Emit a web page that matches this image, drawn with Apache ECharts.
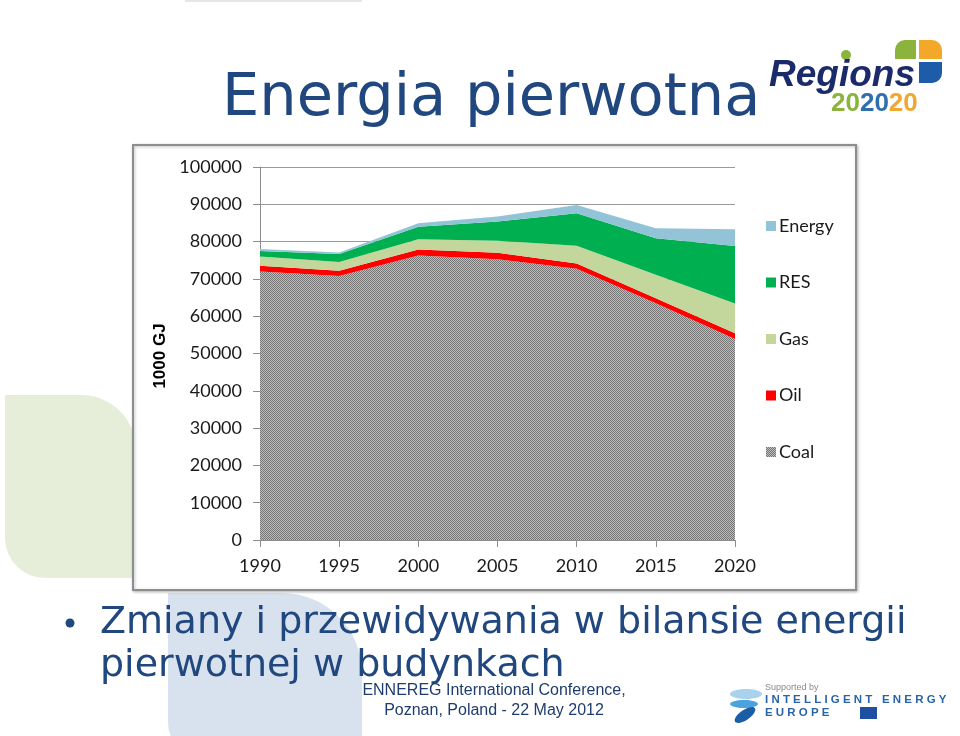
<!DOCTYPE html>
<html><head><meta charset="utf-8">
<script src="https://cdn.jsdelivr.net/npm/echarts@6/dist/echarts.min.js"></script>
<style>html,body{margin:0;padding:0;background:#fff}#c{width:960px;height:736px}</style>
</head><body><div id="c"></div>
<script>
// ---- data ----
const years = ['1990', '1995', '2000', '2005', '2010', '2015', '2020'];
const coal = [72000, 70800, 76300, 75300, 72700, 63500, 53900];
const oil = [1500, 1400, 1600, 1700, 1400, 1300, 1500];
const gas = [2500, 2300, 2700, 3200, 4800, 6300, 8000];
const res = [1500, 2200, 3400, 5200, 8700, 9800, 15400];
const energy = [500, 400, 900, 1300, 2200, 2700, 4500];
const legendOrder = ['Energy', 'RES', 'Gas', 'Oil', 'Coal'];
const yAxisTitle = '1000 GJ';
const titleText = 'Energia pierwotna';
const bulletLines = ['Zmiany i przewidywania w bilansie energii', 'pierwotnej w budynkach'];
const footerLines = ['ENNEREG International Conference,', 'Poznan, Poland - 22 May 2012'];

// ---- coal dither pattern ----
const pc = document.createElement('canvas');
pc.width = 2; pc.height = 2;
const pctx = pc.getContext('2d');
pctx.fillStyle = '#bebebe'; pctx.fillRect(0, 0, 2, 2);
pctx.fillStyle = '#747474'; pctx.fillRect(0, 0, 1, 1); pctx.fillRect(1, 1, 1, 1);
const coalPattern = { image: pc, repeat: 'repeat' };

const BLUE = '#21477f';
const axisFont = 'Lato';

function area(name, data, color) {
  return {
    name, type: 'line', stack: 'total', data,
    symbol: 'none', lineStyle: { width: 0 },
    areaStyle: { color: color, opacity: 1 }, itemStyle: { color: color },
    emphasis: { disabled: true }
  };
}

const chart = echarts.init(document.getElementById('c'), null, { renderer: 'canvas' });
chart.setOption({
  animation: false,
  backgroundColor: '#ffffff',
  grid: { left: 260, right: 225, top: 167, bottom: 196 },
  legend: {
    orient: 'vertical', left: 761, top: 211,
    data: legendOrder, itemWidth: 10, itemHeight: 10, itemGap: 36.5,
    icon: 'rect',
    textStyle: { fontFamily: axisFont, fontSize: 18, color: '#1a1a1a', lineHeight: 20, padding: [0, 0, 0, -2] }
  },
  xAxis: {
    type: 'category', data: years, boundaryGap: false,
    axisLine: { lineStyle: { color: '#8c8c8c', width: 1 } },
    axisTick: { show: true, length: 7, lineStyle: { color: '#8c8c8c' } },
    axisLabel: { fontFamily: axisFont, fontSize: 18, color: '#1a1a1a', margin: 17 },
    splitLine: { show: false }
  },
  yAxis: {
    type: 'value', min: 0, max: 100000, interval: 10000,
    axisLine: { show: true, lineStyle: { color: '#8c8c8c' } },
    axisTick: { show: true, length: 7, lineStyle: { color: '#8c8c8c' } },
    axisLabel: { fontFamily: axisFont, fontSize: 18, color: '#1a1a1a', margin: 18, formatter: v => String(v) },
    splitLine: { show: true, lineStyle: { color: '#9a9a9a', width: 1 } }
  },
  series: [
    area('Coal', coal, coalPattern),
    area('Oil', oil, '#ff0000'),
    area('Gas', gas, '#c3d69b'),
    area('RES', res, '#00b050'),
    area('Energy', energy, '#93c3d6')
  ],
  graphic: [
    // background decorations
    { type: 'rect', z: -20, shape: { x: 185, y: 0, width: 177, height: 2 }, style: { fill: '#e6e6e6' } },
    { type: 'rect', z: -20, shape: { x: 5, y: 395, width: 131, height: 183, r: [0, 55, 0, 40] }, style: { fill: '#e6eed9' } },
    { type: 'rect', z: -20, shape: { x: 168, y: 593, width: 194, height: 160, r: [0, 80, 0, 30] }, style: { fill: '#d8e2ef' } },
    // chart frame
    { type: 'rect', z: -10, shape: { x: 133, y: 145, width: 723, height: 445 }, style: { fill: '#ffffff', stroke: '#8e8e8e', lineWidth: 2, shadowBlur: 3, shadowColor: 'rgba(0,0,0,0.25)', shadowOffsetX: 1, shadowOffsetY: 1 } },
    // y axis title
    { type: 'text', z: 10, x: 160, y: 356, rotation: Math.PI / 2,
      style: { text: yAxisTitle, font: 'bold 17px "Liberation Sans", Arial, sans-serif', fill: '#000', align: 'center', verticalAlign: 'middle' } },
    // slide title
    { type: 'text', z: 10, x: 222, y: 100,
      style: { text: titleText, font: '59px "DejaVu Sans", sans-serif', fill: BLUE, align: 'left', verticalAlign: 'middle' } },
    // bullet
    { type: 'circle', z: 10, shape: { cx: 70, cy: 623, r: 4.5 }, style: { fill: BLUE } },
    { type: 'text', z: 10, x: 100, y: 623,
      style: { text: bulletLines[0], font: '38px "DejaVu Sans", sans-serif', fill: BLUE, align: 'left', verticalAlign: 'middle' } },
    { type: 'text', z: 10, x: 100, y: 666,
      style: { text: bulletLines[1], font: '38px "DejaVu Sans", sans-serif', fill: BLUE, align: 'left', verticalAlign: 'middle' } },
    // footer
    { type: 'text', z: 11, x: 494, y: 691,
      style: { text: footerLines[0], font: '16px "Liberation Sans", Arial, sans-serif', fill: '#1f3c6e', align: 'center', verticalAlign: 'middle' } },
    { type: 'text', z: 11, x: 494, y: 711,
      style: { text: footerLines[1], font: '16px "Liberation Sans", Arial, sans-serif', fill: '#1f3c6e', align: 'center', verticalAlign: 'middle' } },
    // Regions 202020 logo
    { type: 'rect', z: 10, shape: { x: 895, y: 40, width: 21, height: 19, r: [10, 0, 0, 0] }, style: { fill: '#8cb43c' } },
    { type: 'rect', z: 10, shape: { x: 919, y: 40, width: 23, height: 19, r: [0, 10, 0, 0] }, style: { fill: '#f3a82a' } },
    { type: 'rect', z: 10, shape: { x: 919, y: 62, width: 23, height: 21, r: [0, 0, 10, 0] }, style: { fill: '#1d5ca8' } },
    { type: 'circle', z: 10, shape: { cx: 846, cy: 55, r: 5 }, style: { fill: '#8cb43c' } },
    { type: 'text', z: 10, x: 769, y: 76,
      style: { text: 'Regions', font: 'italic bold 37px "Liberation Sans", Arial, sans-serif', fill: '#1b2a6b', align: 'left', verticalAlign: 'middle' } },
    { type: 'text', z: 10, x: 831, y: 104,
      style: { text: '{g|20}{b|20}{o|20}', font: 'bold 26px "Liberation Sans", Arial, sans-serif', align: 'left', verticalAlign: 'middle',
        rich: { g: { fill: '#8cb43c', font: 'bold 26px "Liberation Sans", Arial, sans-serif' }, b: { fill: '#2e6fb0', font: 'bold 26px "Liberation Sans", Arial, sans-serif' }, o: { fill: '#f0a830', font: 'bold 26px "Liberation Sans", Arial, sans-serif' } } } },
    // Intelligent Energy Europe logo
    { type: 'ellipse', z: 10, shape: { cx: 746, cy: 694, rx: 16, ry: 5 }, style: { fill: '#a9d3ec' } },
    { type: 'ellipse', z: 10, shape: { cx: 744, cy: 704, rx: 14, ry: 4 }, style: { fill: '#4aa3dc' } },
    { type: 'ellipse', z: 10, x: 745, y: 715, rotation: 0.6, shape: { cx: 0, cy: 0, rx: 12, ry: 5 }, style: { fill: '#1a5ea6' } },
    { type: 'text', z: 10, x: 765, y: 688,
      style: { text: 'Supported by', font: '9px "Liberation Sans", Arial, sans-serif', fill: '#8a8a8a', align: 'left', verticalAlign: 'middle' } },
    { type: 'text', z: 10, x: 765, y: 700,
      style: { text: 'I N T E L L I G E N T   E N E R G Y', font: 'bold 11.5px "Liberation Sans", Arial, sans-serif', fill: '#2a64a8', align: 'left', verticalAlign: 'middle' } },
    { type: 'text', z: 10, x: 765, y: 713,
      style: { text: 'E U R O P E', font: 'bold 11.5px "Liberation Sans", Arial, sans-serif', fill: '#2a64a8', align: 'left', verticalAlign: 'middle' } },
    { type: 'rect', z: 10, shape: { x: 860, y: 707, width: 17, height: 12 }, style: { fill: '#1f4fa0' } }
  ]
});
</script>
</body></html>
